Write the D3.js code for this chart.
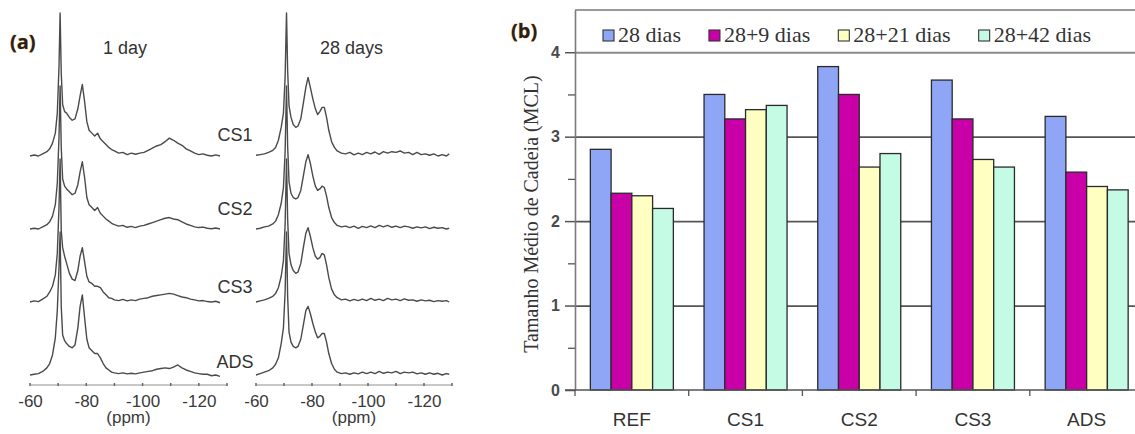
<!DOCTYPE html>
<html>
<head>
<meta charset="utf-8">
<script src="https://cdnjs.cloudflare.com/ajax/libs/d3/7.8.5/d3.min.js"></script>
<style>
  body { margin: 0; background: #fff; }
  svg { display: block; }
</style>
</head>
<body>
<svg width="1135" height="434"></svg>
<script>
/*
Panel (b) data: mean chain length per mix and curing age
*/
var categories = ["REF", "CS1", "CS2", "CS3", "ADS"];
var seriesNames = ["28 dias", "28+9 dias", "28+21 dias", "28+42 dias"];
var mcl28 = [2.85, 3.50, 3.83, 3.67, 3.24];
var mcl28p9 = [2.33, 3.21, 3.50, 3.21, 2.58];
var mcl28p21 = [2.30, 3.32, 2.64, 2.73, 2.41];
var mcl28p42 = [2.15, 3.37, 2.80, 2.64, 2.37];
var seriesColors = ["#8fa6f6", "#c900a8", "#ffffc2", "#c4fbe4"];
var yTicks = [0, 1, 2, 3, 4];
var yMinor = [0.5, 1.5, 2.5, 3.5];

/*
Panel (a) data: 29Si NMR traces (relative intensity, main peak = 100)
*/
var traceNames = ["CS1", "CS2", "CS3", "ADS"];
var ppmTicks = [-60, -80, -100, -120];
var ppmMinor = [-60, -70, -80, -90, -100, -110, -120, -130];

var ppm1day = [-60, -61.5, -63, -64.5, -66, -67, -68, -69, -69.7, -70.3,
  -70.7, -71.1, -71.6, -72.3, -73, -74, -75, -76, -77, -77.8,
  -78.6, -79.4, -80.2, -81, -82, -83, -84, -85, -86, -87,
  -88, -89, -90, -91.5, -93, -94.5, -96, -97.5, -99, -100.5,
  -102, -103.5, -105, -106.5, -108, -109.5, -111, -112.5, -114, -115.5,
  -117, -118.5, -120, -121.5, -123, -124.5, -126, -127.5];

var day1CS1 = [0, 0.7, 0, 1.5, 3, 5, 9, 16, 30, 62,
  100, 58, 36, 31, 30, 27, 25, 26, 33, 42,
  50, 38, 24, 18, 16, 14, 16, 12, 10, 8,
  6, 4.5, 3.5, 2, 2.5, 1, 2, 1.2, 2, 2.5,
  4, 5.5, 7, 8, 10, 12.5, 11, 9, 7.5, 5,
  3.5, 2, 1, 1.5, 0.5, 0, 0.8, 0];
var day1CS2 = [0, 0.5, 0, 1.5, 3, 5, 9, 17, 32, 64,
  100, 57, 35, 30, 28, 26, 24, 25, 31, 40,
  47, 36, 22, 17, 15, 13, 15, 11, 9, 7,
  5.5, 4, 3, 2, 2.5, 1.2, 1.8, 1, 2, 2.5,
  3.5, 4.5, 5.5, 6.5, 7.5, 8, 7, 6.5, 5, 3.5,
  2.5, 1.5, 1, 1.3, 0.5, 0.2, 0.7, 0];
var day1CS3 = [0, 0.8, 0.3, 2, 4, 7, 11, 19, 34, 66,
  100, 50, 38, 32, 27, 20, 16, 15, 22, 32,
  38, 28, 18, 14, 13, 11, 11, 10, 7, 5,
  3, 2.5, 1.5, 1, 1.8, 0.8, 1.5, 1, 2, 2.5,
  3, 4, 4.5, 5, 5.5, 6, 5.5, 4.5, 3.5, 3,
  2, 1.5, 0.8, 1, 0.3, 0, 0.5, -0.5];
var day1ADS = [0, 0.5, 1, 2.5, 5, 8, 14, 26, 45, 75,
  100, 48, 28, 24, 22, 20, 19, 21, 33, 48,
  56, 40, 25, 19, 17, 15, 15, 12, 8, 5,
  3.5, 2, 1.5, 1, 1.5, 0.8, 1.2, 0.8, 1.5, 2,
  2.5, 3, 4, 4.5, 5, 4.5, 5.5, 7, 5, 3.5,
  2.5, 1.5, 1, 0.5, 0.5, -0.5, 0, -1];

var ppm28days = [-60, -61.5, -63, -64.5, -66, -67, -68, -69, -69.8, -70.4,
  -70.9, -71.3, -71.8, -72.5, -73.3, -74.2, -75, -76, -77, -77.8,
  -78.6, -79.4, -80.3, -81.2, -82, -82.8, -83.6, -84.4, -85.2, -86,
  -87, -88, -89, -90.5, -92, -93.5, -95, -96.5, -98, -99.5,
  -101, -102.5, -104, -105.5, -107, -108.5, -110, -111.5, -113, -114.5,
  -116, -117.5, -119, -120.5, -122, -123.5, -125, -126.5, -128, -129];

var day28CS1 = [0.5, 1, 1.5, 2.5, 4, 6, 11, 20, 30, 55,
  100, 60, 35, 27, 22, 20, 21, 26, 38, 48,
  55, 48, 40, 33, 29, 31, 34, 34, 27, 18,
  10, 6, 3.5, 2, 1.5, 2.5, 0.8, 2, 1, 2.5,
  1.5, 2.8, 1.2, 3, 2, 3, 2.5, 3.5, 2, 2.5,
  1, 2.5, 1, 1.5, 0.5, 1.5, 0, 1, 0, 1.5];
var day28CS2 = [0, 0.5, 1.5, 2, 3.5, 5.5, 10, 18, 29, 54,
  100, 58, 33, 25, 22, 21, 22, 27, 38, 47,
  52, 46, 37, 30, 27, 28, 30, 29, 23, 15,
  8, 4.5, 2.5, 1.5, 2, 1, 2, 0.5, 1.8, 1,
  2.2, 1, 2.5, 1.5, 2.5, 1.2, 2, 1, 2, 1.5,
  0.5, 1.5, 0.8, 1.5, 0.3, 1.2, 0.5, 1, 0, 0.5];
var day28CS3 = [0, 0.8, 1.5, 2.5, 4, 6, 10, 18, 29, 54,
  100, 58, 34, 26, 22, 20, 21, 27, 39, 48,
  52, 46, 38, 32, 30, 31, 34, 33, 26, 17,
  9, 5, 3, 1.5, 2, 0.8, 1.8, 1, 2, 1,
  2.5, 1.2, 2, 1, 2.5, 1.5, 2, 1, 2.2, 1.2,
  1.5, 0.5, 1.5, 0.8, 1.2, 0.3, 1, 0.5, 1, 0];
var day28ADS = [0, 1, 2, 3, 5, 7.5, 12, 22, 33, 58,
  100, 55, 30, 23, 20, 19, 20, 25, 36, 45,
  48, 43, 36, 30, 26, 27, 29, 29, 23, 15,
  8, 4, 2, 1, 1.5, 0.5, 1.5, 0.8, 2, 1,
  2, 1, 2.5, 1.2, 2, 1.5, 2.5, 1, 2, 1.5,
  2, 0.8, 1.5, 0.5, 1.5, 0.5, 1.2, 0, 1, 0.5];

/*
SVG declarations
*/
var svg = d3.select("svg");
svg.append("rect").attr("width", 1135).attr("height", 434).attr("fill", "#fff");

/* ================= panel (b) ================= */
var plotLeft = 575, plotTop = 10, plotBottom = 390, step = 113.7;

var x0 = d3.scaleBand()
    .domain(categories)
    .range([plotLeft, plotLeft + step * categories.length])
    .paddingInner(0.27)
    .paddingOuter(0.135);
var x1 = d3.scaleBand()
    .domain(seriesNames)
    .range([0, x0.bandwidth()]);
var yScale = d3.scaleLinear().domain([0, 4.5]).range([plotBottom, plotTop]);

var seriesValues = [mcl28, mcl28p9, mcl28p21, mcl28p42];
var bars = [];
seriesNames.forEach(function(s, j) {
    categories.forEach(function(c, i) {
        bars.push({cat: c, series: s, value: seriesValues[j][i], color: seriesColors[j]});
    });
});

var gb = svg.append("g").attr("class", "panel-b");

// top frame line
gb.append("line")
    .attr("x1", plotLeft).attr("x2", 1135)
    .attr("y1", plotTop).attr("y2", plotTop)
    .attr("stroke", "#9a9a9a").attr("stroke-width", 2);

// gridlines
gb.append("g")
    .attr("class", "grid")
    .attr("transform", "translate(" + plotLeft + ",0)")
    .call(d3.axisLeft(yScale).tickValues([1, 2, 3, 4])
        .tickSize(-(1135 - plotLeft)).tickFormat(""))
    .call(function(g) { g.select(".domain").remove(); })
    .selectAll("line")
    .attr("stroke", "#555").attr("stroke-width", 1.7);
gb.select(".grid").selectAll(".tick").filter(function(d) { return d === 4; })
    .select("line").attr("stroke", "#8a8a8a").attr("stroke-width", 2);

// bars
gb.append("g").selectAll("rect")
    .data(bars)
    .enter().append("rect")
    .attr("x", function(d) { return x0(d.cat) + x1(d.series); })
    .attr("y", function(d) { return yScale(d.value); })
    .attr("width", x1.bandwidth())
    .attr("height", function(d) { return plotBottom - yScale(d.value); })
    .attr("fill", function(d) { return d.color; })
    .attr("stroke", "#2a2a2a")
    .attr("stroke-width", 1.3);

// y axis
var yAxisG = gb.append("g")
    .attr("transform", "translate(" + plotLeft + ",0)")
    .call(d3.axisLeft(yScale).tickValues(yTicks).tickSize(10).tickSizeOuter(0)
        .tickPadding(5).tickFormat(d3.format("d")));
yAxisG.select(".domain").attr("stroke", "#7a7a7a").attr("stroke-width", 1.6);
yAxisG.selectAll(".tick line").attr("stroke", "#555").attr("stroke-width", 1.5);
yAxisG.selectAll("text")
    .style("font", "bold 16px 'Liberation Sans', Arial, sans-serif")
    .attr("fill", "#4a4a4a");

gb.append("g")
    .attr("transform", "translate(" + plotLeft + ",0)")
    .call(d3.axisLeft(yScale).tickValues(yMinor).tickSize(7).tickFormat(""))
    .call(function(g) { g.select(".domain").remove(); })
    .selectAll("line").attr("stroke", "#555").attr("stroke-width", 1.3);

// x axis line and between-group ticks
gb.append("line")
    .attr("x1", plotLeft - 10).attr("x2", 1135)
    .attr("y1", plotBottom).attr("y2", plotBottom)
    .attr("stroke", "#555").attr("stroke-width", 1.6);
gb.append("g").selectAll("line")
    .data(categories)
    .enter().append("line")
    .attr("x1", function(d) { return x0(d) - x0.step() * x0.paddingOuter(); })
    .attr("x2", function(d) { return x0(d) - x0.step() * x0.paddingOuter(); })
    .attr("y1", plotBottom).attr("y2", plotBottom + 6)
    .attr("stroke", "#555").attr("stroke-width", 1.3);

gb.append("g").selectAll("text")
    .data(categories)
    .enter().append("text")
    .attr("x", function(d) { return x0(d) + x0.bandwidth() / 2; })
    .attr("y", 426)
    .attr("text-anchor", "middle")
    .style("font", "19px 'Liberation Sans', Arial, sans-serif")
    .attr("fill", "#333")
    .text(function(d) { return d; });

// y title
gb.append("text")
    .attr("transform", "translate(531,214)rotate(-90)")
    .attr("text-anchor", "middle")
    .attr("dy", "0.35em")
    .style("font", "20px 'Liberation Serif', 'Times New Roman', serif")
    .attr("fill", "#333")
    .text("Tamanho Médio de Cadeia (MCL)");

// legend
var legX = 603;
seriesNames.forEach(function(s, j) {
    gb.append("rect")
        .attr("x", legX).attr("y", 30)
        .attr("width", 11).attr("height", 11)
        .attr("fill", seriesColors[j])
        .attr("stroke", "#333").attr("stroke-width", 1.1);
    var t = gb.append("text")
        .attr("x", legX + 15).attr("y", 42)
        .style("font", "22px 'Liberation Serif', 'Times New Roman', serif")
        .attr("fill", "#333")
        .text(s);
    legX += 15 + t.node().getComputedTextLength() + 28;
});

// panel label
svg.append("text")
    .attr("x", 511).attr("y", 38)
    .style("font", "bold 20px 'Open Sans', 'Liberation Sans', sans-serif")
    .attr("fill", "#2a2016")
    .attr("stroke", "#d89a3a").attr("stroke-width", 0.5)
    .style("paint-order", "stroke")
    .text("(b)");

/* ================= panel (a) ================= */
var axisY = 384.5;
var baseScale = d3.scalePoint().domain(traceNames).range([156, 375]);
var hScale = d3.scaleLinear().domain([0, 100]).range([0, 143]);

function drawSpectra(grid, traces, xRange, title, titleX) {
    var xs = d3.scaleLinear().domain([-60, -130]).range(xRange);
    var ga = svg.append("g");

    var line = d3.line()
        .x(function(d, i) { return xs(grid[i]); })
        .y(function(d) { return d[1]; });

    traceNames.forEach(function(name, k) {
        var base = baseScale(name);
        var pts = traces[k].map(function(v) { return [0, base - hScale(v)]; });
        ga.append("path")
            .attr("d", line(pts))
            .attr("fill", "none")
            .attr("stroke", "#4a4a4a")
            .attr("stroke-width", 1.4)
            .attr("stroke-linejoin", "round");
    });

    // axis
    var ax = ga.append("g")
        .attr("transform", "translate(0," + axisY + ")")
        .call(d3.axisBottom(xs).tickValues(ppmTicks).tickSize(0).tickPadding(10)
            .tickFormat(function(d) { return String(d); }));
    ax.select(".domain").attr("stroke", "#b5b5b5").attr("stroke-width", 1.5);
    ax.selectAll("text")
        .style("font", "17px 'Liberation Sans', Arial, sans-serif")
        .attr("fill", "#3a3a3a");

    ga.append("g").selectAll("line")
        .data(ppmMinor)
        .enter().append("line")
        .attr("x1", function(d) { return xs(d); })
        .attr("x2", function(d) { return xs(d); })
        .attr("y1", axisY - 1.5).attr("y2", axisY + 1.5)
        .attr("stroke", "#666").attr("stroke-width", 1.5);

    ga.append("text")
        .attr("x", xs(-95)).attr("y", 423)
        .attr("text-anchor", "middle")
        .style("font", "17px 'Liberation Sans', Arial, sans-serif")
        .attr("fill", "#3a3a3a")
        .text("(ppm)");

    ga.append("text")
        .attr("x", titleX).attr("y", 54)
        .style("font", "18px 'Liberation Sans', Arial, sans-serif")
        .attr("fill", "#333")
        .text(title);
}

drawSpectra(ppm1day, [day1CS1, day1CS2, day1CS3, day1ADS], [30, 227], "1 day", 103);
drawSpectra(ppm28days, [day28CS1, day28CS2, day28CS3, day28ADS], [256, 452], "28 days", 320);

// trace labels
svg.append("g").selectAll("text")
    .data(traceNames)
    .enter().append("text")
    .attr("x", 235)
    .attr("y", function(d, i) { return baseScale(d) - [15, 14, 9, 7][i]; })
    .attr("text-anchor", "middle")
    .style("font", "18px 'Liberation Sans', Arial, sans-serif")
    .attr("fill", "#333")
    .text(function(d) { return d; });

svg.append("text")
    .attr("x", 10).attr("y", 49)
    .style("font", "bold 20px 'Open Sans', 'Liberation Sans', sans-serif")
    .attr("fill", "#2a2016")
    .attr("stroke", "#d89a3a").attr("stroke-width", 0.5)
    .style("paint-order", "stroke")
    .text("(a)");
</script>
</body>
</html>
